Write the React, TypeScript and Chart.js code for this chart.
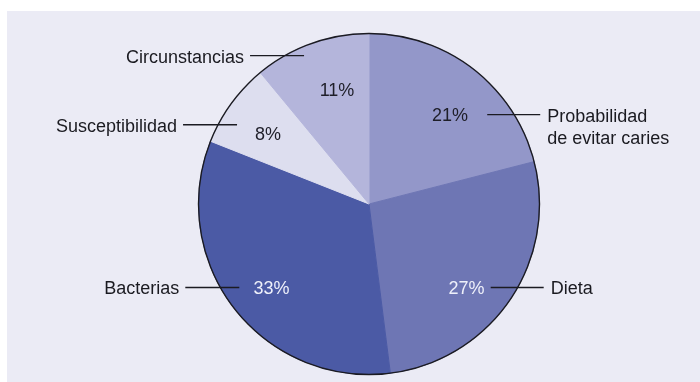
import React, { useEffect, useRef } from "react";
import { Chart, registerables } from "chart.js";

Chart.register(...registerables);

// ---- data ----
const categories: (string | string[])[] = [
  ["Probabilidad", "de evitar caries"],
  "Dieta",
  "Bacterias",
  "Susceptibilidad",
  "Circunstancias",
];
const values = [21, 27, 33, 8, 11];
const sliceColors = ["#9397c9", "#6e76b4", "#4b5aa5", "#dddeef", "#b4b5db"];
const pctColors = ["#1e1e28", "#eef0fa", "#eef0fa", "#1e1e28", "#1e1e28"];

// ---- styling (label placement tweaks, degrees / radius fractions) ----
const pctAngleOffset = [4.5, 6.4, -2.8, -1.3, 4.1];
const pctRadiusFrac = [0.706, 0.753, 0.753, 0.72, 0.694];
const leaderAngleOffset = [20.6, -4.9, 8.5, -8.3, -9.7];

const FONT = "'Liberation Sans', Arial, Helvetica, sans-serif";

const labelPlugin = {
  id: "pieLabels",
  afterDatasetsDraw(chart: any) {
    const ctx = chart.ctx;
    const meta = chart.getDatasetMeta(0);
    const toRad = Math.PI / 180;
    ctx.save();
    // outer outline
    const first = meta.data[0];
    if (first) {
      const p = first.getProps(["x", "y", "outerRadius"], true);
      ctx.beginPath();
      ctx.arc(p.x, p.y, p.outerRadius, 0, Math.PI * 2);
      ctx.strokeStyle = "#1b1b22";
      ctx.lineWidth = 1.4;
      ctx.stroke();
    }
    meta.data.forEach((el: any, i: number) => {
      const p = el.getProps(["x", "y", "startAngle", "endAngle", "outerRadius"], true);
      const mid = (p.startAngle + p.endAngle) / 2;
      // percentage label
      const a = mid + pctAngleOffset[i] * toRad;
      const r = p.outerRadius * pctRadiusFrac[i];
      ctx.font = `18px ${FONT}`;
      ctx.fillStyle = pctColors[i];
      ctx.textAlign = "center";
      ctx.textBaseline = "middle";
      ctx.fillText(`${values[i]}%`, p.x + Math.cos(a) * r, p.y + Math.sin(a) * r + 1);

      // leader line + category label
      const la = mid + leaderAngleOffset[i] * toRad;
      const cx = p.x + Math.cos(la) * p.outerRadius;
      const cy = p.y + Math.sin(la) * p.outerRadius;
      const right = Math.cos(la) > 0;
      ctx.beginPath();
      ctx.strokeStyle = "#1b1b22";
      ctx.lineWidth = 1.4;
      if (right) {
        ctx.moveTo(cx - 27, cy);
        ctx.lineTo(cx + 26, cy);
      } else {
        ctx.moveTo(cx - 35, cy);
        ctx.lineTo(cx + 19, cy);
      }
      ctx.stroke();
      const lbl = categories[i];
      const lines = Array.isArray(lbl) ? lbl : [lbl];
      ctx.font = `18px ${FONT}`;
      ctx.fillStyle = "#1a1a20";
      ctx.textAlign = right ? "left" : "right";
      const tx = right ? cx + 33 : cx - 41;
      lines.forEach((ln: string, k: number) => {
        ctx.fillText(ln, tx, cy + 2 + k * 22);
      });
    });
    ctx.restore();
  },
};

export default function App() {
  const ref = useRef<HTMLCanvasElement | null>(null);
  useEffect(() => {
    document.body.style.margin = "0";
    const c = ref.current;
    if (!c) return;
    const chart = new Chart(c, {
      type: "pie",
      data: {
        labels: categories as any,
        datasets: [
          {
            data: values,
            backgroundColor: sliceColors,
            borderColor: sliceColors,
            borderWidth: 1,
          },
        ],
      },
      options: {
        animation: false,
        responsive: false,
        maintainAspectRatio: false,
        layout: { padding: { top: 33, bottom: 7, left: 38, right: 0 } },
        plugins: {
          legend: { display: false },
          tooltip: { enabled: false },
        },
      },
      plugins: [labelPlugin],
    });
    return () => chart.destroy();
  }, []);
  return (
    <div style={{ position: "relative", width: 700, height: 382, background: "#ffffff", overflow: "hidden" }}>
      <div style={{ position: "absolute", left: 7, top: 11, right: 0, bottom: 0, background: "#ebebf5" }} />
      <canvas ref={ref} width={700} height={382} style={{ position: "absolute", left: 0, top: 0 }} />
    </div>
  );
}
